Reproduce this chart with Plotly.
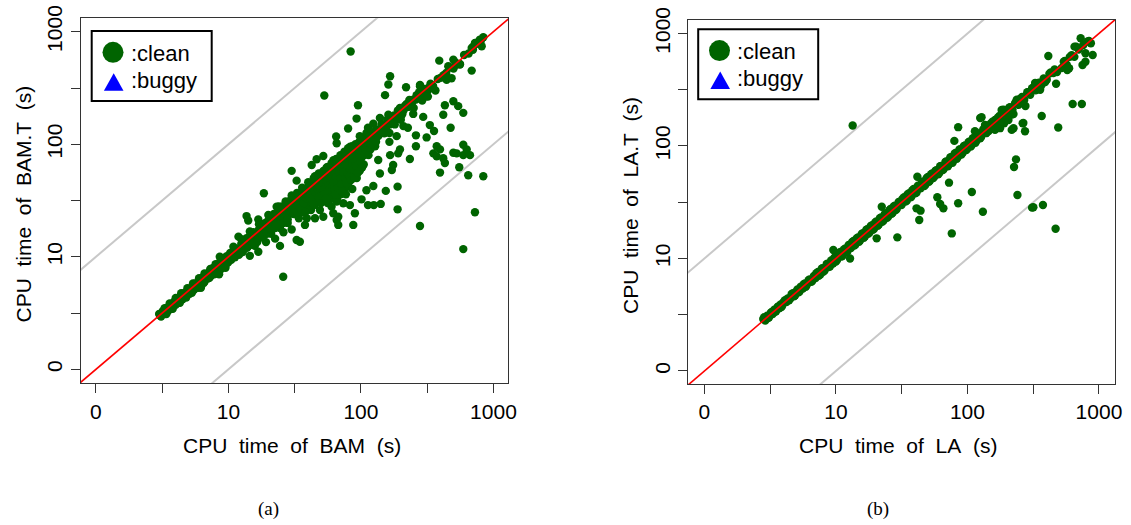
import plotly.graph_objects as go

# ---------------- data (CPU times in seconds) ----------------
# Panel (a): (CPU time of BAM, CPU time of BAM.T), clean instances
bam_points = [
    (3.0, 3.1), (3.1, 2.95), (3.2, 3.3), (3.3, 3.1), (3.4, 3.5), (3.5, 3.3), (3.6, 3.7), (3.7, 3.45),
    (3.8, 3.75), (3.9, 4.0), (4.0, 3.75), (4.1, 4.2), (4.2, 3.9), (4.4, 4.5), (4.5, 4.2), (4.6, 4.75),
    (4.8, 4.45), (5.0, 5.1), (5.1, 4.7), (5.3, 5.4), (5.5, 5.1), (5.6, 5.8), (5.8, 5.35), (6.0, 6.2),
    (6.2, 5.7), (6.2, 5.3), (6.4, 6.6), (6.6, 6.0), (6.8, 7.0), (7.0, 6.4), (7.2, 7.4), (7.4, 6.8),
    (7.6, 7.9), (7.8, 7.0), (8.1, 8.4), (8.3, 7.5), (8.5, 7.0), (8.6, 8.9), (8.6, 10.0), (8.8, 7.8),
    (9.1, 9.6), (9.4, 8.5), (9.5, 8.0), (9.7, 10.1), (10.0, 9.0),
    (3.05, 3.0), (3.25, 3.2), (3.45, 3.35), (3.65, 3.55), (3.85, 3.85), (4.05, 3.95), (4.3, 4.25),
    (4.55, 4.45), (4.75, 4.7), (4.95, 4.8), (5.2, 5.15), (5.45, 5.3), (5.7, 5.6), (5.95, 5.8),
    (6.3, 6.2), (6.7, 6.5), (7.1, 6.9), (7.5, 7.3), (7.9, 7.6), (8.4, 8.0), (8.9, 8.6), (9.3, 9.0),
    (9.9, 9.6), (9.6, 9.8), (8.0, 8.1), (7.0, 7.0), (6.0, 5.9), (5.0, 4.9), (4.0, 4.0), (3.5, 3.5),
    (3.3, 3.5), (3.6, 3.85), (4.0, 4.3), (4.4, 4.75), (4.9, 5.25), (5.4, 5.8), (6.0, 6.45),
    (6.6, 7.1), (7.3, 7.8), (8.0, 8.6), (8.8, 9.5), (3.4, 3.1), (3.8, 3.45), (4.3, 3.9), (4.8, 4.35),
    (5.3, 4.8), (5.9, 5.3), (6.5, 5.85), (7.2, 6.5), (8.0, 7.2), (8.9, 8.0), (9.8, 8.8),
    (10.3, 10.8), (10.5, 9.4), (10.9, 12.3), (11.0, 10.5), (11.2, 9.9), (11.5, 11.8), (11.9, 15.1),
    (12.0, 10.4), (12.0, 11.4), (12.5, 13.0), (12.8, 11.0), (13.0, 12.3), (13.2, 11.8), (13.7, 14.6),
    (13.7, 23.0), (14.1, 21.0), (14.0, 12.3), (14.0, 13.2), (14.5, 10.2), (14.6, 15.5), (15.0, 13.0),
    (15.0, 14.0), (15.5, 16.5), (15.8, 12.5), (16.0, 15.0), (16.2, 14.0), (16.8, 11.1), (16.8, 21.5),
    (17.0, 17.5), (17.0, 15.5), (17.5, 14.8), (18.0, 19.5), (18.0, 17.0), (18.5, 36.7), (18.5, 15.5),
    (19.0, 20.0), (19.2, 13.5), (19.8, 17.5), (20.0, 19.0), (20.5, 22.0), (21.0, 16.0), (21.0, 20.0),
    (21.5, 18.5), (22.0, 24.0), (22.0, 19.0), (22.5, 14.5), (23.0, 22.0), (23.1, 27.9), (23.0, 20.0),
    (24.0, 25.0), (24.0, 21.0), (24.5, 12.5), (24.5, 18.0), (25.0, 22.0), (25.0, 24.0), (25.5, 28.0),
    (25.9, 6.65), (26.0, 16.5), (26.0, 22.0), (27.0, 24.0), (27.0, 27.0), (27.5, 30.0), (28.0, 20.0),
    (28.0, 23.0), (29.0, 26.0), (29.5, 32.0), (30.0, 58.0), (30.0, 17.5), (30.0, 25.0),
    (10.5, 10.3), (11.5, 11.0), (12.5, 12.0), (13.5, 12.8), (14.5, 13.8), (15.5, 14.6), (16.5, 15.5),
    (17.5, 16.6), (18.5, 17.5), (19.5, 18.5), (20.5, 19.2), (21.5, 20.5), (22.5, 21.0), (23.5, 22.5),
    (24.5, 23.0), (26.0, 24.5), (27.5, 26.0), (29.0, 28.0), (12.2, 10.8), (13.8, 12.0), (15.2, 12.8),
    (16.5, 13.5), (18.0, 15.0), (19.5, 16.0), (21.0, 17.5), (22.5, 18.0), (24.0, 19.5), (26.0, 20.0),
    (28.0, 21.5), (20.0, 21.0), (23.0, 24.0), (26.0, 26.5), (29.0, 30.0),
    (12.5, 14.3), (14.5, 16.8), (17.0, 19.5), (20.0, 23.5), (24.0, 28.0), (27.0, 31.0), (30.0, 35.0),
    (31, 30), (31, 24), (32, 34), (32, 29), (32.7, 47.5), (32.7, 14.1), (33, 27), (34, 22), (34, 31),
    (34.6, 13.6), (35, 36), (35, 30), (35, 33), (36, 25), (36, 28), (37, 38), (37.8, 19.2), (38, 32),
    (38, 28), (38, 35), (39, 22), (40, 42), (40, 35), (40, 37), (40, 33), (41, 30), (42, 26), (42, 35),
    (42, 31), (42.5, 65.5), (43, 44), (43, 38), (44, 33), (44, 40), (44, 36), (45, 22), (45, 29),
    (45, 34), (46, 47), (46.3, 73.6), (46, 40), (46, 42), (47, 36), (48, 31), (48, 44), (48, 38),
    (49, 26), (50, 52), (50, 44), (50, 41), (50, 36), (51, 39), (52, 78.7), (52, 22.7), (52, 34),
    (52, 47), (52, 42), (52.9, 271), (53, 56), (54, 48), (54, 45), (55, 42), (55, 38), (56, 30), (56, 50),
    (56, 43), (57, 37), (58, 60), (58, 52), (58, 48), (58, 32), (59, 46), (60, 27.9), (60, 40), (60, 54),
    (60, 45), (60, 38), (61, 34), (61.8, 24.4), (62, 64), (62, 57), (62, 50), (62, 36), (63, 50),
    (64, 44), (64, 58), (64, 48), (65, 117), (65.6, 102), (65.6, 30.9), (65.6, 21.2), (65, 42), (66, 38),
    (66, 55), (66, 33), (67, 70), (67, 62), (67.4, 22.7), (67.4, 19.2), (68, 55), (68, 60), (68, 50),
    (69, 48), (70, 42), (70, 58), (70, 46), (70, 36), (71, 75), (72, 67), (72, 63), (72, 52), (73, 58),
    (73.5, 29.9), (74, 74), (74, 51), (75, 44), (75, 60), (75, 48), (75, 40), (76, 82), (76, 55),
    (77, 36), (78, 70), (78, 65), (79, 62), (80, 138), (80, 88), (80, 54), (80, 68), (80, 60), (80, 50),
    (80, 42), (81, 46), (82.6, 28.8), (83, 95), (83, 78), (83.6, 667), (84, 66), (85, 58), (85, 74),
    (85, 64), (86, 40), (87.5, 19.2), (88, 92), (88, 55), (89, 72), (90, 24.4), (90, 60), (90, 80),
    (91, 100), (92, 82), (92.7, 169), (93, 50), (95, 222), (95, 86), (95, 78), (96, 68), (97, 105),
    (98, 58), (98, 118), (100, 96), (101, 32.4), (101, 76), (102, 110), (103, 103), (104, 88), (105, 66),
    (31, 27), (33, 31), (33, 25), (35, 27), (36, 33), (37, 30), (38, 25), (39, 33), (39, 36), (41, 38),
    (41, 34), (43, 32), (43, 41), (44, 29), (45, 38), (47, 40), (47, 45), (48, 34), (49, 41), (50, 30),
    (51, 46), (53, 40), (53, 36), (54, 51), (55, 47), (55, 33), (57, 43), (57, 54), (58, 40), (59, 50),
    (60, 50), (61, 42), (62, 46), (63, 40), (63, 55), (64, 36), (65, 51), (66, 46), (67, 41), (68, 65),
    (69, 55), (70, 50), (71, 44), (72, 38), (73, 62), (74, 56), (76, 50), (77, 66), (78, 45), (79, 55),
    (81, 72), (82, 52), (83, 60), (84, 48), (86, 68), (86, 80), (87, 60), (89, 50), (91, 70), (92, 64),
    (94, 90), (95, 56), (97, 80), (99, 70), (100, 86), (102, 62), (104, 100), (106, 80), (108, 90),
    (33, 37), (36, 41), (40, 46), (44, 50), (45, 52), (48, 55), (52, 58), (55, 62), (56, 63), (60, 68),
    (62, 72), (65, 74), (70, 80), (75, 86), (80, 92), (86, 96),
    (107, 114), (108, 100), (110, 39), (110, 120), (110, 126), (113, 28.8), (113, 140), (115, 108),
    (118, 90), (120, 125), (124, 42.6), (124, 152), (125, 28.8), (125, 112), (128, 96), (130, 135),
    (135, 72.5), (135, 118), (139, 55), (139, 171), (141, 29.5), (143, 150), (145, 140), (150, 125),
    (112, 104), (114, 80), (116, 118), (120, 100), (122, 112), (126, 128), (130, 105), (132, 120),
    (138, 135), (142, 126), (148, 150), (155, 140), (158, 165), (165, 150), (170, 160), (178, 180),
    (185, 170), (190, 200), (205, 185), (215, 220), (230, 215), (245, 240), (260, 250), (275, 290),
    (285, 270), (300, 310), (320, 300), (335, 345), (350, 330), (380, 380), (400, 390), (420, 410),
    (440, 430), (470, 480), (500, 470), (520, 530), (600, 620), (650, 640), (700, 690), (750, 780),
    (800, 820),
    (152, 273), (154, 38.5), (160, 155), (161, 339), (161, 183), (164, 126), (164, 105), (166, 402),
    (166, 80), (171, 59), (175, 65.5), (175, 170), (180, 150), (186, 118), (189, 42), (189, 26.4),
    (191, 83), (195, 190), (197, 210), (197, 90), (200, 165), (209, 145), (210, 200), (219, 321),
    (221, 228), (225, 215), (226, 140), (232, 248), (234, 74), (240, 230), (248, 186), (248, 249),
    (250, 210), (260, 120), (260, 96), (263, 273), (270, 260), (279, 18.8), (279, 328), (279, 337),
    (290, 245), (295, 175), (300, 290), (313, 115), (313, 267), (320, 265), (322, 316), (331, 148),
    (340, 330), (351, 315), (352, 83), (356, 131), (365, 300), (373, 96), (373, 78), (390, 553),
    (395, 90), (395, 56), (418, 183), (418, 75), (430, 222), (430, 68), (443, 373), (456, 493),
    (475, 140), (483, 386), (498, 565), (498, 241), (498, 84), (527, 510), (528, 83), (542, 218),
    (552, 62.5), (559, 510), (559, 517), (592, 190), (592, 99), (592, 80), (592, 11.7), (628, 90),
    (645, 53), (665, 80), (685, 451), (685, 718), (705, 738), (725, 795), (725, 24.9), (765, 810),
    (791, 851), (815, 743), (838, 893), (838, 52),
]

# Panel (b): (CPU time of LA, CPU time of LA.T), clean instances
la_points = [
    (2.8, 2.9), (2.9, 2.8), (3.0, 3.1), (3.1, 3.0), (3.2, 3.3), (3.3, 3.2), (3.4, 3.5), (3.5, 3.4),
    (3.6, 3.7), (3.7, 3.6), (3.8, 3.9), (3.9, 3.8), (4.0, 4.1), (4.2, 4.1), (4.3, 4.4), (4.5, 4.4),
    (4.6, 4.8), (4.8, 4.6), (5.0, 5.1), (5.2, 5.0), (5.4, 5.6), (5.6, 5.4), (5.8, 6.0), (6.0, 5.8),
    (6.3, 6.5), (6.5, 6.2), (6.8, 7.0), (7.0, 6.7), (7.3, 7.6), (7.6, 7.2), (7.9, 8.2), (8.2, 7.8),
    (8.5, 8.9), (8.8, 8.4), (9.2, 9.6), (9.5, 9.0), (9.55, 11.9), (9.9, 10.3), (10.2, 9.7), (10.6, 11.2),
    (11.0, 10.4), (11.5, 12.0), (12.0, 11.3), (12.5, 13.2), (12.8, 10.0), (13.0, 12.4), (13.4, 152),
    (13.6, 14.3), (14.1, 13.4), (14.7, 15.4), (15.3, 14.5), (16.0, 16.8), (16.6, 15.7), (17.3, 18.2),
    (18.0, 17.0), (18.8, 19.8), (19.5, 18.4), (20.3, 21.3), (20.4, 15.1), (21.2, 20.0), (22.0, 23.2),
    (22.3, 28.8), (23.0, 21.7), (24.0, 25.2), (25.0, 23.6), (26.0, 27.5), (27.0, 25.5), (28.0, 29.5),
    (29.0, 27.5), (29.3, 15.4), (30.0, 31.8), (31.5, 29.8), (33.0, 35.0), (34.5, 32.5), (36.0, 38.0),
    (37.5, 35.5), (39.0, 41.5), (41.0, 38.5), (41.0, 27.9), (41.6, 53.3), (43.0, 42.0), (43.0, 22.0),
    (44.0, 26.6), (45.0, 47.5), (47.0, 44.0), (49.0, 52.0), (51.0, 48.0), (53.0, 56.0), (55.0, 52.0),
    (57.0, 60.0), (59.0, 35.0), (60.0, 56.0), (62.0, 30.5), (62.0, 66.0), (65.0, 61.0), (65.6, 27.9),
    (68.0, 72.0), (71.0, 66.0), (72.4, 47.2), (74.0, 79.0), (76.0, 16.7), (77.0, 71.0), (79.5, 111),
    (80.0, 86.0), (83.0, 77.0), (85.0, 147), (85.0, 31.0), (87.0, 93.0), (90.0, 84.0), (94.0, 100),
    (98.0, 92.0), (102, 108), (106, 99), (108, 39), (110, 117), (114, 135), (115, 107), (120, 128),
    (125, 177), (125, 117), (128, 180), (131, 26), (132, 140), (136, 154), (140, 131), (145, 136),
    (150, 158), (153, 149), (162, 139), (162, 170), (167, 155), (175, 185), (177, 144), (182, 209),
    (188, 210), (190, 159), (195, 205), (205, 170), (210, 221), (217, 190), (217, 139), (224, 192),
    (224, 144), (226, 65), (230, 240), (234, 76), (237, 258), (240, 36.7), (250, 262), (263, 159),
    (266, 160), (274, 135), (276, 227), (290, 300), (310, 28.3), (317, 28.5), (320, 335), (327, 363),
    (340, 352), (357, 316), (367, 185), (375, 29.9), (401, 388), (412, 631), (420, 440), (450, 446),
    (468, 18.4), (472, 358), (490, 146), (521, 493), (550, 570), (569, 528), (574, 474), (593, 491),
    (600, 620), (631, 236), (652, 764), (672, 764), (700, 720), (726, 906), (741, 236), (750, 525),
    (789, 561), (789, 667), (820, 850), (868, 818), (896, 644),
    (2.85, 3.0), (3.05, 2.95), (3.25, 3.35), (3.45, 3.35), (3.65, 3.75), (3.85, 3.7), (4.1, 4.25),
    (4.4, 4.25), (4.7, 4.9), (4.9, 4.7), (5.1, 5.3), (5.3, 5.1), (5.7, 5.9), (5.9, 5.6), (6.2, 6.4),
    (6.6, 6.3), (7.1, 7.4), (7.4, 7.0), (7.8, 8.1), (8.0, 7.6), (8.6, 9.0), (9.0, 8.5), (9.7, 10.1),
    (10.0, 9.4), (10.8, 11.4), (11.2, 10.5), (11.8, 12.3), (12.2, 11.5), (13.3, 14.0), (13.8, 13.0),
    (14.4, 15.1), (15.0, 14.1), (15.7, 16.5), (16.3, 15.3), (17.0, 17.9), (17.6, 16.6), (18.4, 19.4),
    (19.1, 18.0), (19.9, 20.9), (20.8, 19.5), (21.6, 22.8), (22.5, 21.2), (23.5, 24.7), (24.5, 23.0),
    (25.5, 26.8), (26.5, 25.0), (27.5, 29.0), (28.5, 27.0), (30.5, 30.0), (32, 33.8), (33.8, 32),
    (35, 37), (37, 35), (38, 40.2), (40, 38), (42, 44.3), (44, 42), (46, 48.5), (48, 45.5), (50, 53),
    (52, 49.5), (54, 57), (56, 53.5), (58, 61), (61, 57.5), (63, 66.5), (66, 62.5), (69, 73), (72, 68),
    (75, 79.5), (78, 74), (82, 87), (85, 80.5), (88, 93), (92, 87), (96, 101), (100, 95), (104, 110),
    (108, 102), (112, 118), (117, 111), (122, 129), (127, 120), (133, 140), (138, 130), (143, 151),
    (148, 141), (155, 164), (160, 151), (170, 178), (180, 172), (185, 196), (200, 189), (207, 218),
    (220, 210), (235, 247), (245, 232), (260, 273), (270, 256), (285, 300), (300, 285), (310, 326),
    (330, 313), (350, 365), (365, 347), (380, 398), (390, 370), (430, 450), (460, 480), (480, 455),
    (540, 560), (620, 640), (650, 620), (700, 740), (760, 790), (840, 860),
]

bam_cpu, bamt_cpu = [list(v) for v in zip(*bam_points)]
la_cpu, lat_cpu = [list(v) for v in zip(*la_points)]

tick_vals = [1, 10, 100, 1000]
tick_text = ["0", "10", "100", "1000"]
minor_tick_vals = [3.16, 31.6, 316]
ref_line = [0.5, 3000]          # y = x reference
legend_labels = [":clean", ":buggy"]

# ---------------- style / layout ----------------
W, H = 1131, 525
GREEN = "#006400"
FONT = "Liberation Sans"


def px(x):
    return x / W


def py(y):
    return 1 - y / H


fig = go.Figure()

panels = [
    dict(xs=bam_cpu, ys=bamt_cpu, xa="x", ya="y"),
    dict(xs=la_cpu, ys=lat_cpu, xa="x2", ya="y2"),
]
for p in panels:
    fig.add_trace(go.Scatter(x=ref_line, y=[v * 10 for v in ref_line], mode="lines",
                             line=dict(color="#c8c8c8", width=2), xaxis=p["xa"], yaxis=p["ya"],
                             hoverinfo="skip"))
    fig.add_trace(go.Scatter(x=ref_line, y=[v / 10 for v in ref_line], mode="lines",
                             line=dict(color="#c8c8c8", width=2), xaxis=p["xa"], yaxis=p["ya"],
                             hoverinfo="skip"))
    fig.add_trace(go.Scatter(x=p["xs"], y=p["ys"], mode="markers", name="clean",
                             marker=dict(color=GREEN, size=8.4, line=dict(width=0)),
                             xaxis=p["xa"], yaxis=p["ya"]))
    fig.add_trace(go.Scatter(x=ref_line, y=ref_line, mode="lines",
                             line=dict(color="#ff0000", width=1.7), xaxis=p["xa"], yaxis=p["ya"],
                             hoverinfo="skip"))

axis_common = dict(
    type="log", showgrid=False, zeroline=False, showline=True, linecolor="#333333",
    linewidth=1, mirror=True, ticks="outside", ticklen=9, tickwidth=1, tickcolor="#333333",
    tickvals=tick_vals, ticktext=tick_text, automargin=False,
    tickfont=dict(family=FONT, size=21, color="black"),
    minor=dict(tickvals=minor_tick_vals, ticks="outside", ticklen=9, tickwidth=1, tickcolor="#333333"),
)

fig.update_layout(
    width=W, height=H, margin=dict(l=0, r=0, t=0, b=0, autoexpand=False),
    paper_bgcolor="white", plot_bgcolor="white", showlegend=False,
    xaxis=dict(axis_common, domain=[px(80.7), px(508.3)], range=[-0.115, 3.112], anchor="y"),
    yaxis=dict(axis_common, domain=[py(383.3), py(18.3)], range=[-0.124, 3.119], anchor="x",
               tickangle=-90),
    xaxis2=dict(axis_common, domain=[px(688), px(1115.4)], range=[-0.125, 3.125], anchor="y2"),
    yaxis2=dict(axis_common, domain=[py(384), py(20)], range=[-0.116, 3.12], anchor="x2",
                tickangle=-90),
)

SP = "\u00a0 "
shapes, annotations = [], []


def add_title(text, x, y, angle=0):
    annotations.append(dict(text=text, x=px(x), y=py(y), xref="paper", yref="paper",
                            showarrow=False, xanchor="center", yanchor="middle", textangle=angle,
                            font=dict(family=FONT, size=21, color="black")))


add_title(SP.join(["CPU", "time", "of", "BAM", "(s)"]), 292, 445)
add_title(SP.join(["CPU", "time", "of", "BAM.T", "(s)"]), 22.5, 204, -90)
add_title(SP.join(["CPU", "time", "of", "LA", "(s)"]), 898, 445)
add_title(SP.join(["CPU", "time", "of", "LA.T", "(s)"]), 630, 206, -90)


def add_legend(ox, oy):
    shapes.append(dict(type="rect", xref="paper", yref="paper",
                       x0=px(ox), x1=px(ox + 120), y0=py(oy), y1=py(oy + 70),
                       line=dict(color="black", width=2), fillcolor="white", layer="above"))
    cx, cy, r = ox + 21.3, oy + 21.3, 10.5
    shapes.append(dict(type="circle", xref="paper", yref="paper",
                       x0=px(cx - r), x1=px(cx + r), y0=py(cy + r), y1=py(cy - r),
                       line=dict(width=0), fillcolor=GREEN, layer="above"))
    tx, ty0, ty1 = ox + 22, oy + 42.3, oy + 59.7
    path = (f"M {px(tx - 9.8)},{py(ty1)} L {px(tx + 9.8)},{py(ty1)} "
            f"L {px(tx)},{py(ty0)} Z")
    shapes.append(dict(type="path", xref="paper", yref="paper", path=path,
                       line=dict(width=0), fillcolor="#0000ff", layer="above"))
    for lab, yy in zip(legend_labels, [oy + 22.3, oy + 49.6]):
        annotations.append(dict(text=lab, x=px(ox + 37), y=py(yy), xref="paper", yref="paper",
                                showarrow=False, xanchor="left", yanchor="middle",
                                font=dict(family=FONT, size=22, color="black")))


add_legend(91.7, 31)
add_legend(698.2, 29.3)

for cap, x in [("(a)", 268), ("(b)", 878)]:
    annotations.append(dict(text=cap, x=px(x), y=py(509), xref="paper", yref="paper",
                            showarrow=False, xanchor="center", yanchor="middle",
                            font=dict(family="Liberation Serif", size=19, color="black")))

fig.update_layout(shapes=shapes, annotations=annotations)
fig.write_html("out.html")
